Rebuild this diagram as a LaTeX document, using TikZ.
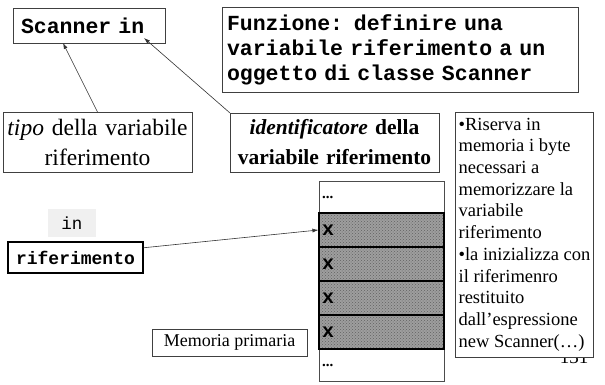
\documentclass[tikz,border=0pt]{standalone}
\usepackage{fontspec}
\setmainfont{Liberation Serif}
\setmonofont{Liberation Mono}
\usetikzlibrary{arrows.meta,calc,patterns}
\begin{document}
\begin{tikzpicture}[x=1pt,y=-1pt,
  box/.style={draw=black!75, line width=0.8pt, fill=white, inner sep=0pt, outer sep=0pt},
  conn/.style={draw=black!80, line width=0.6pt, -{Latex[length=6pt,width=4pt]}},
  cell/.style={draw=black, line width=1.2pt, preaction={fill=black!38}, pattern=crosshatch dots, pattern color=black!62, minimum width=125pt, minimum height=34pt, inner sep=0pt, text width=119pt, align=left},
  endcell/.style={draw=black!70, line width=0.6pt, fill=white, minimum width=125pt, minimum height=32pt, inner sep=0pt, text width=119pt, align=left},
  mono/.style={font=\ttfamily\bfseries\fontsize{21.5}{25}\selectfont},
  xmark/.style={font=\ttfamily\bfseries\fontsize{20}{20}\selectfont},
  dotsfont/.style={font=\bfseries\fontsize{15}{15}\selectfont},
]
\useasboundingbox (0,0) rectangle (605,385);
\fill[white] (0,0) rectangle (605,385);

% top boxes
\node[box, mono, text width=136pt, inner xsep=8pt, align=left, minimum height=35pt] (scanner) at (89,25.5) {Scanner in};
\node[box, mono, text width=346pt, inner xsep=5pt, align=left, minimum height=85pt] (funz) at (400,49.5)
  {Funzione: definire una\\variabile riferimento a un\\oggetto di classe Scanner};

\node[box, align=center, text width=183pt, inner xsep=3pt, minimum height=60pt, font=\fontsize{23.5}{30}\selectfont] (tipo) at (97.5,142)
  {\textit{tipo} della variabile\\riferimento};
\node[box, align=center, text width=207pt, inner xsep=1pt, minimum height=59pt, font=\bfseries\fontsize{21.5}{30}\selectfont] (ident) at (334.5,142.5)
  {\textit{identificatore} della\\variabile riferimento};

% page number (partly hidden)
\begin{scope}
\clip (550,357.6) rectangle (600,372);
\node[anchor=base, inner sep=0pt, font=\fontsize{19}{19}\selectfont] (pagenum) at (574,363) {131};
\end{scope}

% right description box
\node[box, align=left, minimum width=137pt, minimum height=245pt, inner xsep=3pt, font=\fontsize{18.5}{21.7}\selectfont] (desc) at (524.5,234.5)
  {•Riserva in\\memoria i byte\\necessari a\\memorizzare la\\variabile\\riferimento\\•la inizializza con\\il riferimenro\\restituito\\dall’espressione\\new Scanner(…)};

% in / riferimento
\node[fill=black!6, minimum width=48pt, minimum height=28pt, inner sep=0pt, font=\ttfamily\fontsize{17.5}{17.5}\selectfont] (inlab) at (72,223) {in};
\node[draw=black, line width=1.5pt, fill=white, minimum width=135pt, minimum height=31pt, inner sep=0pt, font=\ttfamily\bfseries\fontsize{18}{18}\selectfont] (rif) at (75.5,257.5) {riferimento};

% memoria primaria
\node[box, minimum width=155pt, minimum height=27pt, font=\fontsize{18}{18}\selectfont] (mem) at (229.5,342.5) {Memoria primaria};

% memory column
\node[endcell, dotsfont] (topdots) at (381.5,197) {\raisebox{-4pt}{...}};
\node[endcell, dotsfont] (botdots) at (381.5,365) {\raisebox{-4pt}{...}};
\node[cell, xmark] (row1) at (381.5,230) {\raisebox{-3pt}{x}};
\node[cell, xmark] (row2) at (381.5,264) {\raisebox{-3pt}{x}};
\node[cell, xmark] (row3) at (381.5,298) {\raisebox{-3pt}{x}};
\node[cell, xmark] (row4) at (381.5,332) {\raisebox{-3pt}{x}};

% connectors
\coordinate (tipTipo) at (63,43);
\coordinate (tipIdent) at (144,38);
\draw[conn] (tipo.north) -- (tipTipo);
\draw[conn] (ident.north west) -- (tipIdent);
\draw[conn] ($(rif.north east)!0.2!(rif.south east)$) -- (row1.west);
\end{tikzpicture}
\end{document}
